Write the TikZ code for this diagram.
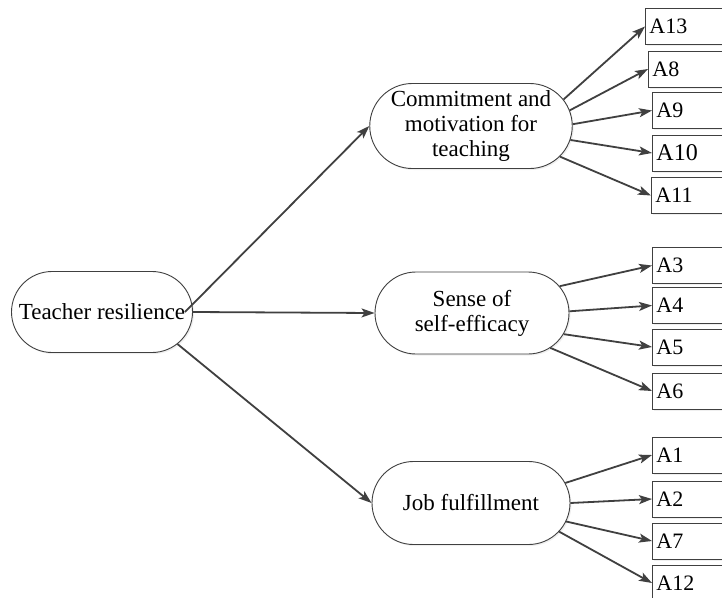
\documentclass[tikz,border=0pt]{standalone}
\usepackage{fontspec}
\setmainfont{Liberation Serif}
\usetikzlibrary{shapes.misc,arrows.meta,shadows}
\definecolor{ln}{HTML}{404040}
\begin{document}
\begin{tikzpicture}[x=1pt,y=-1pt,
  oval/.style={rounded rectangle, draw=ln, line width=0.9pt, fill=white,
    align=center, font=\rmfamily\fontsize{23}{25}\selectfont, inner sep=2pt,
    drop shadow={shadow xshift=1.5pt,shadow yshift=-1.5pt,fill=black!12}},
  item/.style={rectangle, draw=ln, line width=0.9pt, fill=white, anchor=west,
    minimum height=36pt, text width=92pt, inner xsep=4pt, align=left,
    font=\rmfamily\fontsize{22}{22}\selectfont,
    drop shadow={shadow xshift=1.5pt,shadow yshift=-1.5pt,fill=black!12}},
  arr/.style={draw=ln, line width=1.8pt, -{Stealth[length=13pt,width=9pt,inset=3pt]}}
]
\clip (0,0) rectangle (722,597);
\fill[white] (0,0) rectangle (722,597);

% main nodes
\node[oval, minimum width=185pt, minimum height=81pt] (T) at (102,312) {Teacher resilience};
\node[oval, minimum width=197pt, minimum height=85pt] (C) at (471,126) {Commitment and\\motivation for\\teaching};
\node[oval, minimum width=198pt, minimum height=82pt] (S) at (472,313) {Sense of\\self-efficacy};
\node[oval, minimum width=202pt, minimum height=83pt] (J) at (471,503) {Job fulfillment};

% items
\node[item] (a13) at (645,26.5) {A13};
\node[item] (a8)  at (648,69) {A8};
\node[item] (a9)  at (652,110.5) {A9};
\node[item, font=\rmfamily\fontsize{24}{24}\selectfont] (a10) at (652,153) {A10};
\node[item] (a11) at (651,195.5) {A11};

\node[item] (a3) at (652,265.5) {A3};
\node[item] (a4) at (652,305.5) {A4};
\node[item] (a5) at (652,347) {A5};
\node[item] (a6) at (652,391) {A6};

\node[item] (a1)  at (652,455) {A1};
\node[item] (a2)  at (652,499) {A2};
\node[item] (a7)  at (652,541) {A7};
\node[item] (a12) at (652,583) {A12};

% arrows from Teacher resilience
\draw[arr] ([xshift=-8pt]T.east) -- (C.west);
\draw[arr] (T.east) -- (S.west);
\draw[arr] (T.-23) -- (J.west);

% Commitment
\draw[arr] (C.16.5) -- (a13.west);
\draw[arr] (C.9.5) -- (a8.west);
\draw[arr] (C.1) -- (a9.west);
\draw[arr] (C.-8.8) -- (a10.west);
\draw[arr] (C.-19.8) -- (a11.west);

% Sense of self-efficacy
\draw[arr] (S.17) -- (a3.west);
\draw[arr] (S.1) -- (a4.west);
\draw[arr] (S.-13) -- (a5.west);
\draw[arr] (S.-24) -- (a6.west);

% Job fulfillment
\draw[arr] (J.12) -- (a1.west);
\draw[arr] (J.0.5) -- (a2.west);
\draw[arr] (J.-11) -- (a7.west);
\draw[arr] (J.-18) -- (a12.west);
\end{tikzpicture}
\end{document}
